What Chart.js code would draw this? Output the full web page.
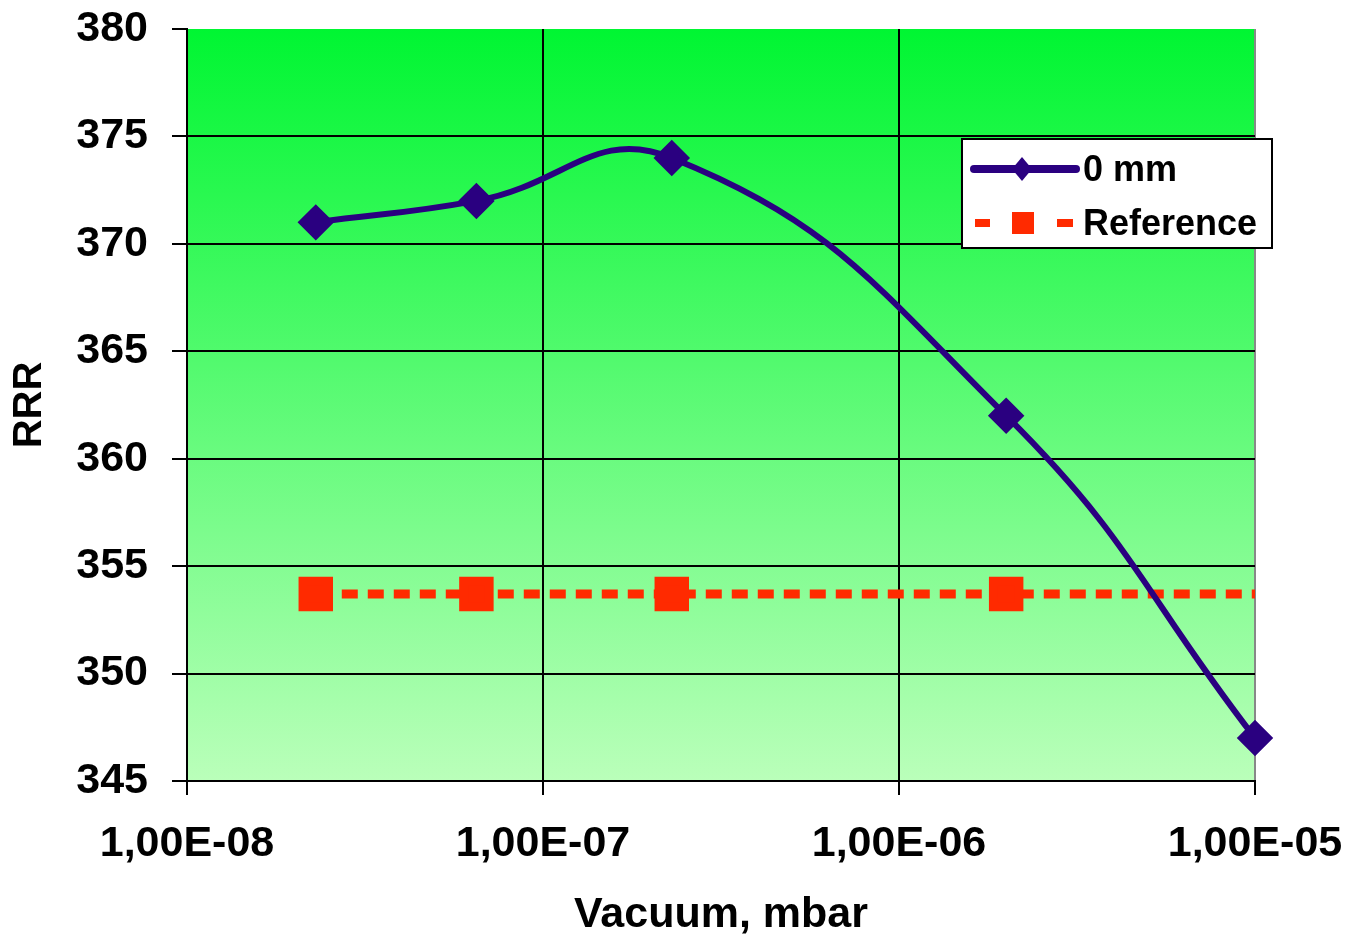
<!DOCTYPE html>
<html>
<head>
<meta charset="utf-8">
<script src="https://cdn.jsdelivr.net/npm/chart.js@4"></script>
<style>
  body { margin: 0; background: #fff; }
  #caja { width: 1351px; height: 936px; }
</style>
</head>
<body>
<div id="caja"><canvas id="grafica"></canvas></div>
<script>
// datos
const vacio = [2.3e-8, 6.5e-8, 2.3e-7, 2.0e-6, 1.0e-5];
const rrr0mm = [371, 372, 374, 362, 347];
const referencia = [353.7, 353.7, 353.7, 353.7, 353.7];
const ticksX = [1e-8, 1e-7, 1e-6, 1e-5];

const fuente = '"Liberation Sans", Arial, sans-serif';
const azul = '#2a0080';
const rojo = '#ff2a00';

function formatoExp(v) {
    const e = Math.round(Math.log10(v));
    return '1,00E' + (e < 0 ? '-' : '+') + String(Math.abs(e)).padStart(2, '0');
}

// fondo degradado verde del area de trazado
const fondo = {
    id: 'fondo',
    beforeDraw(chart) {
        const { ctx, chartArea: a } = chart;
        const g = ctx.createLinearGradient(0, a.top, 0, a.bottom);
        g.addColorStop(0, 'rgb(0,246,50)');
        g.addColorStop(1, 'rgb(186,255,186)');
        ctx.save();
        ctx.fillStyle = g;
        ctx.fillRect(a.left, a.top, a.right - a.left, a.bottom - a.top);
        ctx.restore();
    }
};

// leyenda dibujada a mano dentro del grafico
const leyenda = {
    id: 'leyenda',
    afterDraw(chart) {
        const ctx = chart.ctx;
        ctx.save();
        ctx.fillStyle = '#fff';
        ctx.fillRect(962, 139, 310, 109);
        ctx.strokeStyle = '#000';
        ctx.lineWidth = 2;
        ctx.strokeRect(962, 139, 310, 109);

        // serie 0 mm
        ctx.strokeStyle = azul;
        ctx.lineWidth = 8;
        ctx.lineCap = 'round';
        ctx.beginPath();
        ctx.moveTo(974, 169);
        ctx.lineTo(1076, 169);
        ctx.stroke();
        ctx.fillStyle = azul;
        ctx.beginPath();
        ctx.moveTo(1022, 157);
        ctx.lineTo(1032, 169);
        ctx.lineTo(1022, 181);
        ctx.lineTo(1012, 169);
        ctx.closePath();
        ctx.fill();

        // serie referencia
        ctx.fillStyle = rojo;
        ctx.fillRect(975, 219, 15, 8);
        ctx.fillRect(1012, 212, 22, 22);
        ctx.fillRect(1057, 219, 16, 8);

        ctx.fillStyle = '#000';
        ctx.font = 'bold 36px ' + fuente;
        ctx.textBaseline = 'middle';
        ctx.fillText('0 mm', 1083, 171);
        ctx.fillText('Reference', 1083, 225);
        ctx.restore();
    }
};

new Chart(document.getElementById('grafica'), {
    type: 'line',
    data: {
        datasets: [{
            label: '0 mm',
            data: vacio.map((x, i) => ({ x: x, y: rrr0mm[i] })),
            borderColor: azul,
            backgroundColor: azul,
            borderWidth: 6,
            pointStyle: 'rectRot',
            pointRadius: 14,
            pointHoverRadius: 14,
            tension: 0.45,
            clip: false,
            fill: false
        }, {
            label: 'Reference',
            data: vacio.map((x, i) => ({ x: x, y: referencia[i] })),
            borderColor: rojo,
            backgroundColor: rojo,
            borderWidth: 9,
            borderDash: [16, 10],
            pointStyle: 'rect',
            pointRadius: [18, 18, 18, 18, 0],
            tension: 0,
            clip: false,
            fill: false
        }]
    },
    options: {
        responsive: true,
        maintainAspectRatio: false,
        animation: false,
        layout: { padding: { top: 29, right: 96, left: 0, bottom: 0 } },
        plugins: {
            legend: { display: false },
            tooltip: { enabled: false }
        },
        scales: {
            x: {
                type: 'logarithmic',
                min: 1e-8,
                max: 1e-5,
                afterBuildTicks: s => { s.ticks = ticksX.map(v => ({ value: v })); },
                afterFit: s => {
                    s.height = 155;
                    s.paddingLeft = 0;
                    s.paddingRight = 0;
                },
                grid: {
                    color: c => (c.tick && c.tick.value === 1e-5) ? '#888' : '#000',
                    lineWidth: 2,
                    tickLength: 14,
                    tickColor: '#000'
                },
                border: { color: '#000', width: 2 },
                ticks: {
                    color: '#000',
                    padding: 23,
                    maxRotation: 0,
                    autoSkip: false,
                    font: { family: fuente, size: 43, weight: 'bold' },
                    callback: v => formatoExp(v)
                },
                title: {
                    display: true,
                    text: 'Vacuum, mbar',
                    color: '#000',
                    padding: { top: 0, bottom: -5 },
                    font: { family: fuente, size: 43, weight: 'bold' }
                }
            },
            y: {
                min: 345,
                max: 380,
                afterFit: s => {
                    s.width = 187;
                    s.paddingTop = 0;
                    s.paddingBottom = 0;
                },
                grid: {
                    color: c => (c.tick && c.tick.value === 380) ? 'rgba(0,0,0,0)' : '#000',
                    lineWidth: 2,
                    tickLength: 15,
                    tickColor: '#000'
                },
                border: { color: '#000', width: 2 },
                ticks: {
                    stepSize: 5,
                    color: '#000',
                    padding: 24,
                    font: { family: fuente, size: 43, weight: 'bold' }
                },
                title: {
                    display: true,
                    text: 'RRR',
                    color: '#000',
                    padding: 6,
                    font: { family: fuente, size: 40, weight: 'bold' }
                }
            }
        }
    },
    plugins: [fondo, leyenda]
});
</script>
</body>
</html>
